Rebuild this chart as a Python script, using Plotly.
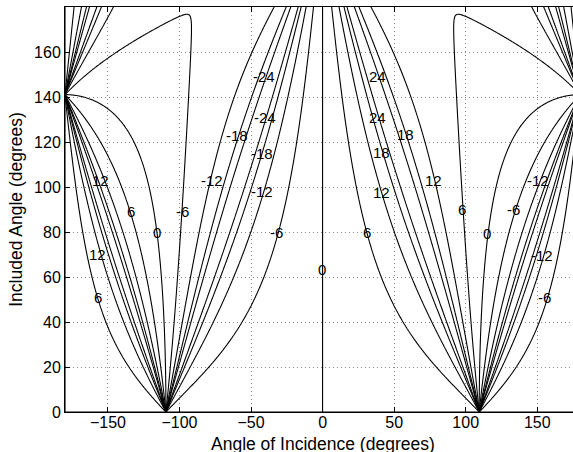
import numpy as np
import plotly.graph_objects as go

# ---- data ----
# polar pattern of each microphone of the coincident pair: a + b*cos(theta)  (hypercardioid)
pattern_a = 0.25
pattern_b = 0.75
contour_levels = [-24, -18, -12, -6, 0, 6, 12, 18, 24]   # inter-channel level difference, dB
x_ticks = [-150, -100, -50, 0, 50, 100, 150]
y_ticks = [0, 20, 40, 60, 80, 100, 120, 140, 160]

label_text = ["12", "6", "-6", "0", "12", "6", "-12", "-18", "-24", "-24", "-18", "-12", "-6", "0",
              "24", "24", "18", "12", "6", "18", "12", "6", "-6", "-12", "0", "-12", "-6"]
label_x = [-155, -134, -98, -116, -157, -157, -77, -60, -41, -40, -42.5, -42.5, -32, -0.5,
           38.3, 38.3, 41, 41, 30.8, 57.6, 77.4, 97.2, 133.3, 150.7, 115.1, 153, 155.4]
label_y = [103, 89, 89, 80, 70, 51, 103, 123, 149, 131, 115, 98, 80, 63.3,
           149, 131, 115.4, 97.6, 79.6, 123.5, 103, 89.8, 89.8, 103, 79.4, 69.5, 51]

# ---- grid of the plotted quantity ----
xg = np.arange(-181.25, 181.3, 0.5)
yg = np.arange(-0.75, 181.0, 0.5)
X, Y = np.meshgrid(np.radians(xg), np.radians(yg))
left = pattern_a + pattern_b * np.cos(X - Y / 2)
right = pattern_a + pattern_b * np.cos(X + Y / 2)
eps = 1e-12
Z = 20 * np.log10((np.abs(left) + eps) / (np.abs(right) + eps))
Z = np.clip(Z, -80, 80).astype(np.float32)

FONT = "Liberation Sans, Arial, sans-serif"

fig = go.Figure()
fig.add_trace(go.Contour(
    x=xg, y=yg, z=Z,
    contours=dict(start=contour_levels[0], end=contour_levels[-1],
                  size=contour_levels[1] - contour_levels[0], coloring="lines"),
    colorscale=[[0, "black"], [1, "black"]],
    showscale=False,
    line=dict(width=1.1, smoothing=0),
    hoverinfo="skip",
))

for t, lx, ly in zip(label_text, label_x, label_y):
    fig.add_annotation(x=lx, y=ly, text=t, showarrow=False,
                       font=dict(family=FONT, size=15, color="black"),
                       xanchor="center", yanchor="middle")

# x-axis title placed close to the bottom edge, as in the reference
fig.add_annotation(xref="paper", yref="paper", x=0.508, y=0, yanchor="top", xanchor="center",
                   yshift=-20, showarrow=False, text="Angle of Incidence (degrees)",
                   font=dict(family=FONT, size=17.5, color="black"))

fig.update_layout(
    width=573, height=452,
    margin=dict(l=65, r=0, t=7, b=40, autoexpand=False),
    paper_bgcolor="white", plot_bgcolor="white",
    font=dict(family=FONT, size=16, color="black"),
    showlegend=False,
)
fig.update_xaxes(
    range=[-180, 175], tickvals=x_ticks, ticks="inside", ticklen=5, tickcolor="black",
    showline=True, linecolor="black", linewidth=1, mirror="ticks",
    showgrid=True, gridcolor="#8a8a8a", griddash="1px,3px", gridwidth=1, zeroline=False,
    tickfont=dict(size=16), automargin=False, ticklabelstandoff=-4,
)
fig.update_yaxes(
    range=[0, 180], tickvals=y_ticks, ticks="inside", ticklen=5, tickcolor="black",
    showline=True, linecolor="black", linewidth=1, mirror=False,
    showgrid=True, gridcolor="#8a8a8a", griddash="1px,3px", gridwidth=1, zeroline=False,
    tickfont=dict(size=16), automargin=False,
    title=dict(text="Included Angle (degrees)", font=dict(size=17.5), standoff=6),
)

fig.write_html("out.html")
